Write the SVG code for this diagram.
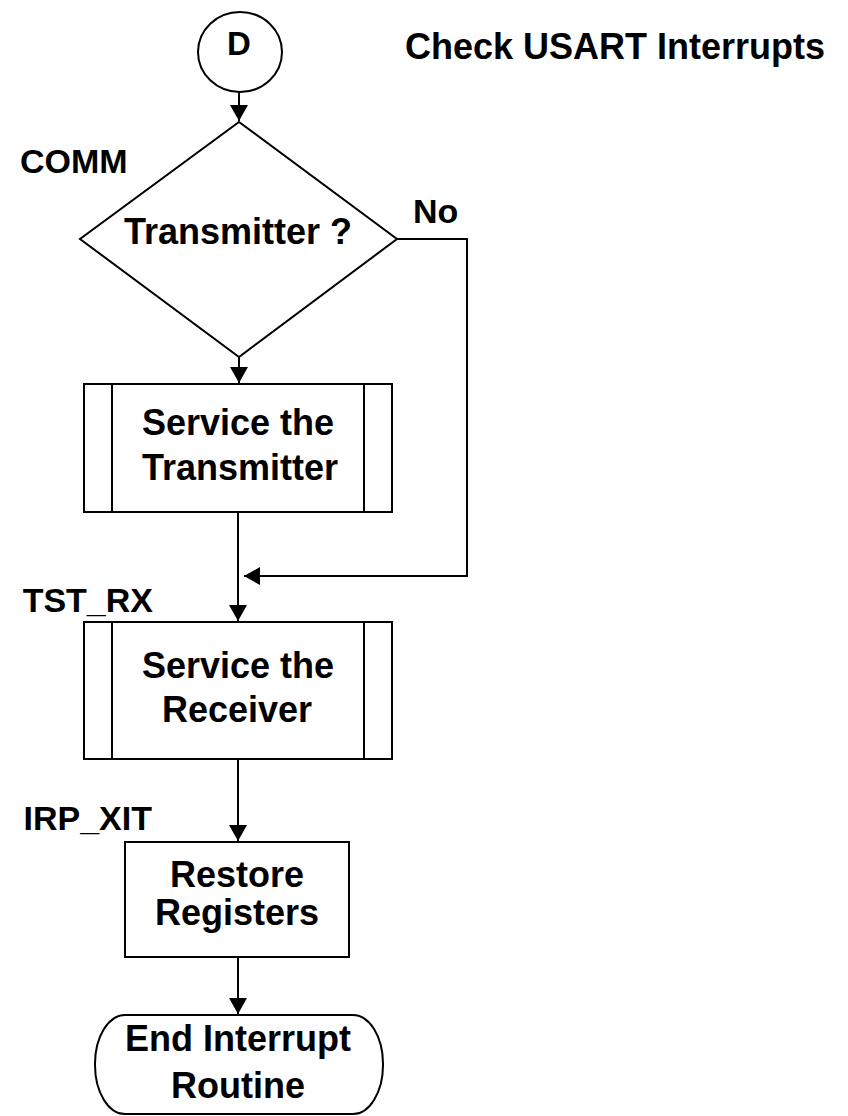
<svg xmlns="http://www.w3.org/2000/svg" width="848" height="1116" viewBox="0 0 848 1116">
<style>
.s{fill:none;stroke:#000;stroke-width:2}
.b{fill:#fff;stroke:#000;stroke-width:2}
.t{font-family:"Liberation Sans",Arial,sans-serif;font-weight:bold;font-size:36px;fill:#000}
.m{text-anchor:middle}
</style>
<defs>
<marker id="ah" viewBox="0 0 16 18" markerWidth="16" markerHeight="18" markerUnits="userSpaceOnUse" refX="16" refY="9" orient="auto">
<path d="M0,0 L16,9 L0,18 z" fill="#000"/>
</marker>
</defs>
<rect width="848" height="1116" fill="#fff"/>
<g id="connectors">
<line class="s" x1="239" y1="92" x2="239" y2="121" marker-end="url(#ah)"/>
<line class="s" x1="239" y1="357" x2="239" y2="383" marker-end="url(#ah)"/>
<line class="s" x1="238" y1="512" x2="238" y2="621" marker-end="url(#ah)"/>
<polyline class="s" points="397,239 467,239 467,576 244,576" marker-end="url(#ah)"/>
<line class="s" x1="238" y1="759" x2="238" y2="841" marker-end="url(#ah)"/>
<line class="s" x1="238" y1="957" x2="238" y2="1014" marker-end="url(#ah)"/>
</g>
<g id="title"><text class="t" x="405" y="59" font-size="37">Check USART Interrupts</text></g>
<g id="start">
<ellipse class="b" cx="240" cy="52" rx="42" ry="40"/>
<text class="t m" x="239" y="55" style="font-size:33px">D</text>
</g>
<g id="decision">
<polygon class="b" points="239,122 397,239 239,357 80,239"/>
<text class="t m" x="238" y="244">Transmitter ?</text>
<text class="t" x="20" y="173" style="font-size:34px">COMM</text>
<text class="t" x="413" y="223" style="font-size:34px">No</text>
</g>
<g id="svc-tx">
<rect class="b" x="84" y="384" width="308" height="128"/>
<line class="s" x1="112" y1="384" x2="112" y2="512"/>
<line class="s" x1="364" y1="384" x2="364" y2="512"/>
<text class="t m" x="238" y="435">Service the</text>
<text class="t m" x="240" y="480">Transmitter</text>
</g>
<g id="svc-rx">
<rect class="b" x="84" y="622" width="308" height="137"/>
<line class="s" x1="112" y1="622" x2="112" y2="759"/>
<line class="s" x1="364" y1="622" x2="364" y2="759"/>
<text class="t m" x="238" y="678">Service the</text>
<text class="t m" x="237" y="722">Receiver</text>
<text class="t" x="153" y="612" text-anchor="end" style="font-size:34px">TST_RX</text>
</g>
<g id="restore">
<rect class="b" x="125" y="842" width="224" height="115"/>
<text class="t m" x="237" y="887">Restore</text>
<text class="t m" x="237" y="925">Registers</text>
<text class="t" x="152" y="830" text-anchor="end" style="font-size:34px">IRP_XIT</text>
</g>
<g id="end">
<rect class="b" x="95" y="1015" width="288" height="99" rx="30" ry="49"/>
<text class="t m" x="238" y="1051">End Interrupt</text>
<text class="t m" x="238" y="1098">Routine</text>
</g>
</svg>
